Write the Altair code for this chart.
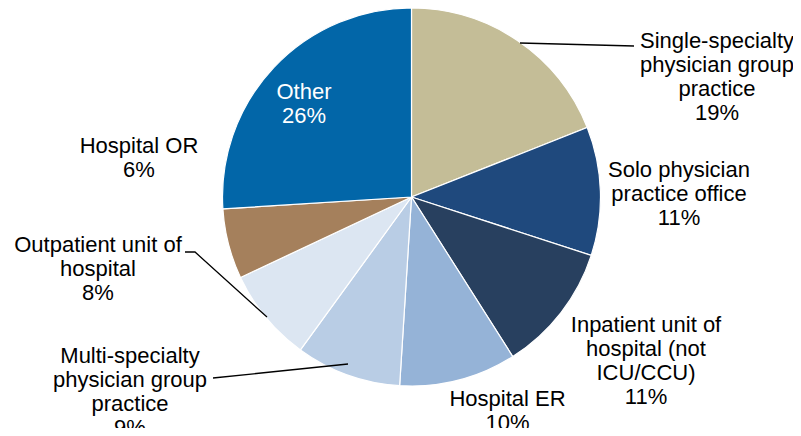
import altair as alt
import pandas as pd

# ---- data ----
categories = [
    "Single-specialty physician group practice",
    "Solo physician practice office",
    "Inpatient unit of hospital (not ICU/CCU)",
    "Hospital ER",
    "Multi-specialty physician group practice",
    "Outpatient unit of hospital",
    "Hospital OR",
    "Other",
]
values = [19, 11, 11, 10, 9, 8, 6, 26]
colors = ["#C4BD97", "#1F497D", "#28405F", "#95B3D7", "#B9CDE5", "#DCE6F2", "#A5805C", "#0266A8"]
label_texts = [
    "Single-specialty\nphysician group\npractice\n19%",
    "Solo physician\npractice office\n11%",
    "Inpatient unit of\nhospital (not\nICU/CCU)\n11%",
    "Hospital ER\n10%",
    "Multi-specialty\nphysician group\npractice\n9%",
    "Outpatient unit of\nhospital\n8%",
    "Hospital OR\n6%",
    "Other\n26%",
]

# ---- layout (pixel positions of labels and leader lines) ----
CX, CY, R = 403.5, 189, 189
label_x = [709, 671, 638, 499.5, 122, 90, 131, 296]
label_y = [33, 162, 317, 391, 348, 237, 138, 84]
label_color = ["#000000"] * 7 + ["#FFFFFF"]
leader_id = ["single", "single", "out", "out", "out", "multi", "multi"]
leader_x = [512, 626, 177, 187, 259, 205, 340]
leader_y = [35, 38, 244, 244, 309, 370, 356]
leader_order = [0, 1, 0, 1, 2, 0, 1]

pie_df = pd.DataFrame({
    "category": categories,
    "value": values,
    "color": colors,
    "order": list(range(len(categories))),
})
label_df = pd.DataFrame({
    "label": label_texts,
    "lx": label_x,
    "ly": label_y,
    "tc": label_color,
})
leader_df = pd.DataFrame({
    "id": leader_id,
    "lx": leader_x,
    "ly": leader_y,
    "o": leader_order,
})

shadow = alt.Chart(pd.DataFrame({"v": [1]})).mark_arc(
    outerRadius=R + 2, color="#D9D9D9"
).encode(
    theta=alt.Theta("v:Q"),
    x=alt.value(CX), y=alt.value(CY),
)

pie = alt.Chart(pie_df).mark_arc(
    outerRadius=R, stroke="#FFFFFF", strokeWidth=1.2
).encode(
    theta=alt.Theta("value:Q", stack=True),
    order=alt.Order("order:Q"),
    color=alt.Color("color:N", scale=None),
    x=alt.value(CX), y=alt.value(CY),
)

leaders = alt.Chart(leader_df).mark_line(color="#000000", strokeWidth=1.3).encode(
    x=alt.X("lx:Q", scale=None),
    y=alt.Y("ly:Q", scale=None),
    detail="id:N",
    order="o:Q",
)

labels = alt.Chart(label_df).mark_text(
    font="Liberation Sans", fontSize=22, lineBreak="\n", lineHeight=24,
    align="center", baseline="middle",
).encode(
    x=alt.X("lx:Q", scale=None),
    y=alt.Y("ly:Q", scale=None),
    text="label:N",
    color=alt.Color("tc:N", scale=None),
)

chart = alt.layer(shadow, pie, leaders, labels).properties(
    width=785, height=420, padding=0, autosize="none"
).configure_view(stroke=None)

chart.save("out.html", embed_options={"renderer": "svg", "actions": False})
